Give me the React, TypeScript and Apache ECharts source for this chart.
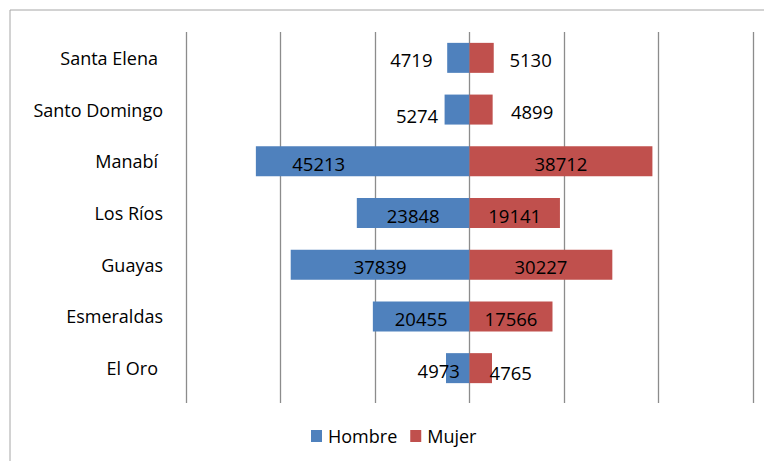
import React, { useEffect, useRef } from "react";
import * as echarts from "echarts";

const categories = ["Santa Elena", "Santo Domingo", "Manabí", "Los Ríos", "Guayas", "Esmeraldas", "El Oro"];
const hombre = [4719, 5274, 45213, 23848, 37839, 20455, 4973];
const mujer = [5130, 4899, 38712, 19141, 30227, 17566, 4765];

// label placement tweaks (pixels), kept apart from the data
const hombreLabelOffset = [[-47, 2], [-40, 6], [-44, 2], [0, 2], [0, 2], [0, 2], [-19, 2]];
const mujerLabelOffset = [[49, 2], [51, 2], [0, 2], [0, 2], [0, 2], [0, 2], [30, 4]];
const paddedLabels = ["Santa Elena", "Manabí", "El Oro"];

const FONT = "'Open Sans', sans-serif";
const GRID = "#8c8c8c";

export default function App() {
  const ref = useRef<HTMLDivElement>(null);
  useEffect(() => {
    if (!ref.current) return;
    const chart = echarts.init(ref.current, null, { renderer: "svg" });
    chart.setOption({
      animation: false,
      backgroundColor: "#ffffff",
      textStyle: { fontFamily: FONT },
      graphic: [
        {
          type: "rect",
          shape: { x: 10, y: 10, width: 800, height: 500 },
          style: { fill: "none", stroke: "#a6a6a6", lineWidth: 1 },
          z: -1,
        },
      ],
      grid: { left: 186, right: 11, top: 32, bottom: 67, containLabel: false },
      legend: {
        data: ["Hombre", "Mujer"],
        left: 311,
        top: 427,
        padding: 0,
        icon: "rect",
        itemWidth: 11,
        itemHeight: 12,
        itemGap: 13,
        textStyle: { fontFamily: FONT, fontSize: 18, color: "#000", padding: [0, 0, 0, 1] },
      },
      xAxis: {
        type: "value",
        min: -60000,
        max: 60000,
        interval: 20000,
        axisLabel: { show: false },
        axisLine: { show: false },
        axisTick: { show: true, length: 9, lineStyle: { color: GRID, width: 1.3 } },
        splitLine: { show: true, lineStyle: { color: GRID, width: 1.3 } },
      },
      yAxis: {
        type: "category",
        data: categories,
        inverse: true,
        axisLine: { show: false },
        axisTick: { show: false },
        axisLabel: {
          margin: 23,
          fontFamily: FONT,
          fontSize: 18,
          color: "#000",
          formatter: (v: string) => (paddedLabels.includes(v) ? `{p|${v}}` : v),
          rich: { p: { fontFamily: FONT, fontSize: 18, color: "#000", padding: [0, 5, 0, 0] } },
        },
      },
      series: [
        {
          name: "Hombre",
          type: "bar",
          barWidth: 30,
          barGap: "-100%",
          itemStyle: { color: "#4F81BD" },
          label: {
            show: true,
            position: "inside",
            fontFamily: FONT,
            fontSize: 18.5,
            color: "#000",
            formatter: (p: any) => String(Math.abs(p.value)),
          },
          data: hombre.map((v, i) => ({ value: -v, label: { offset: hombreLabelOffset[i] } })),
        },
        {
          name: "Mujer",
          type: "bar",
          barWidth: 30,
          itemStyle: { color: "#C0504D" },
          label: {
            show: true,
            position: "inside",
            fontFamily: FONT,
            fontSize: 18.5,
            color: "#000",
            formatter: (p: any) => String(Math.abs(p.value)),
          },
          data: mujer.map((v, i) => ({ value: v, label: { offset: mujerLabelOffset[i] } })),
        },
      ],
    });
    return () => chart.dispose();
  }, []);
  return (
    <div
      ref={ref}
      style={{ position: "absolute", left: 0, top: 0, width: 764, height: 461 }}
    />
  );
}
